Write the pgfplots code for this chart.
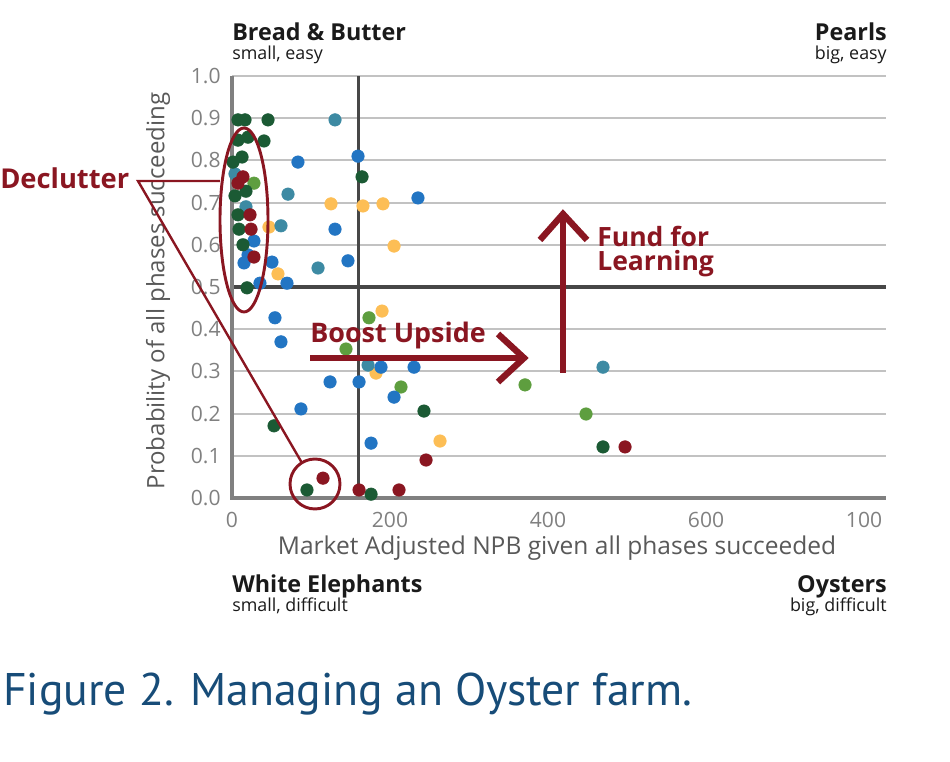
\documentclass[border=0pt]{standalone}
\usepackage{fontspec}
\setmainfont{Open Sans}
\newfontfamily\capfont{PT Sans}
\usepackage{pgfplots}
\pgfplotsset{compat=1.18}
\definecolor{dgreen}{HTML}{1B5A34}
\definecolor{dred}{HTML}{8A1621}
\definecolor{cblue}{HTML}{2275C3}
\definecolor{cteal}{HTML}{3D8AA3}
\definecolor{lgreen}{HTML}{5E9E3F}
\definecolor{cyellow}{HTML}{FDBE55}
\definecolor{annot}{HTML}{8A1621}
\definecolor{capblue}{HTML}{174C78}
\definecolor{ticgray}{HTML}{808080}
\definecolor{labgray}{HTML}{595959}
\definecolor{qtext}{HTML}{1A1A1A}
\begin{document}
\begin{tikzpicture}
\begin{axis}[
  at={(0pt,0pt)}, anchor=south west,
  scale only axis, width=490.5pt, height=316.5pt,
  xmin=0, xmax=827.8, ymin=0, ymax=1,
  clip=false,
  axis line style={draw=none},
  xtick={0,200,400,600,800},
  xticklabels={0,200,400,600,100},
  ytick={0,0.1,...,1.0},
  yticklabel style={/pgf/number format/fixed, /pgf/number format/fixed zerofill, /pgf/number format/precision=1, xshift=-5pt},
  /pgf/number format/assume math mode=true,
  tick label style={color=ticgray, font=\fontsize{15.8}{18}\selectfont},
  major tick length=0pt,
  xticklabel style={yshift=-7pt},
  ymajorgrids,
  grid style={color=black!24, line width=1.4pt},
  every axis plot/.append style={only marks, mark=*, mark size=4.7pt},
]
\draw[line width=2.3pt, color=black!72] (axis cs:0,0.5) -- (axis cs:827.8,0.5);
\draw[line width=2.3pt, color=black!72] (axis cs:160,0) -- (axis cs:160,1);
\draw[line width=2.3pt, color=black!50] (axis cs:0,1) -- (axis cs:0,0) -- (axis cs:827.8,0);
\addplot[mark options={draw=cyellow, fill=cyellow}] coordinates {
(125.3,0.697) (165.8,0.692) (191.1,0.697) (205.1,0.597) (46.8,0.642)
(58.2,0.531) (189.9,0.443) (182.3,0.296) (263.3,0.135)};
\addplot[mark options={draw=lgreen, fill=lgreen}] coordinates {
(27.8,0.746) (173.4,0.427) (144.3,0.353) (213.9,0.263) (370.9,0.268) (448.1,0.199)};
\addplot[mark options={draw=cteal, fill=cteal}] coordinates {
(130.4,0.896) (3.8,0.768) (70.9,0.720) (17.7,0.690) (62,0.645)
(108.9,0.545) (172.2,0.315) (469.6,0.310)};
\addplot[mark options={draw=cblue, fill=cblue}] coordinates {
(159.5,0.810) (83.5,0.796) (235.4,0.711) (130.4,0.637) (27.8,0.609)
(146.8,0.562) (20.3,0.576) (15.2,0.557) (50.6,0.559) (35.4,0.509)
(69.6,0.509) (54.4,0.427) (62.0,0.370) (188.6,0.310) (230.4,0.310)
(124.1,0.275) (160.8,0.275) (205.1,0.239) (87.3,0.211) (176,0.130)};
\addplot[mark options={draw=dgreen, fill=dgreen}] coordinates {
(7.6,0.896) (16.5,0.896) (45.6,0.896) (7.6,0.848) (20.3,0.855)
(40.5,0.846) (1.3,0.796) (12.7,0.808) (17.7,0.727) (3.8,0.716)
(7.6,0.671) (8.9,0.637) (13.9,0.600) (19.0,0.498) (164.6,0.761)
(53.2,0.171) (94.9,0.019) (176,0.009) (243,0.206) (469.6,0.121)};
\addplot[mark options={draw=dred, fill=dred}] coordinates {
(13.9,0.761) (7.6,0.746) (22.8,0.671) (24.1,0.637) (27.8,0.571)
(115.2,0.047) (160.8,0.019) (211.4,0.019) (245.6,0.090) (497.5,0.121)};
\end{axis}
\begin{scope}[shift={(-174pt,373.5pt)}, x=0.75pt, y=-0.75pt]
\path[use as bounding box] (0,0) rectangle (950,762);
% axis labels
\node[rotate=90, color=labgray, font=\fontsize{18}{22}\selectfont] at (158,291) {Probability of all phases succeeding};
\node[color=labgray, font=\fontsize{18.4}{22}\selectfont] at (557,548) {Market Adjusted NPB given all phases succeeded};
% quadrant labels
\node[anchor=base west, inner sep=0pt, color=qtext, font=\fontsize{17.5}{20}\selectfont\bfseries] at (232,41) {Bread \& Butter};
\node[anchor=base west, inner sep=0pt, color=qtext, font=\fontsize{13.4}{15}\selectfont] at (232,60) {small, easy};
\node[anchor=base east, inner sep=0pt, color=qtext, font=\fontsize{17.5}{20}\selectfont\bfseries] at (887,41) {Pearls};
\node[anchor=base east, inner sep=0pt, color=qtext, font=\fontsize{13.4}{15}\selectfont] at (887,60) {big, easy};
\node[anchor=base west, inner sep=0pt, color=qtext, font=\fontsize{17.5}{20}\selectfont\bfseries] at (232,593) {White Elephants};
\node[anchor=base west, inner sep=0pt, color=qtext, font=\fontsize{13.4}{15}\selectfont] at (232,612) {small, difficult};
\node[anchor=base east, inner sep=0pt, color=qtext, font=\fontsize{17.5}{20}\selectfont\bfseries] at (887,593) {Oysters};
\node[anchor=base east, inner sep=0pt, color=qtext, font=\fontsize{13.4}{15}\selectfont] at (887,612) {big, difficult};
% annotations
\draw[annot, line width=2.2pt] (244,220) ellipse [x radius=24, y radius=92];
\draw[annot, line width=2.2pt] (315,484) circle [radius=25];
\draw[annot, line width=1.8pt] (220,181) -- (138,181) -- (302,463);
\node[anchor=base west, inner sep=0pt, color=annot, font=\fontsize{20.5}{24}\selectfont\bfseries] at (0,189) {Declutter};
\draw[annot, line width=4.8pt] (310,358) -- (522,358);
\draw[annot, line width=4.8pt, line join=miter] (498,334) -- (524,358) -- (498,382);
\node[anchor=base west, inner sep=0pt, color=annot, font=\fontsize{20.2}{24}\selectfont\bfseries] at (310,343) {Boost Upside};
\draw[annot, line width=4.8pt] (563,373) -- (563,216);
\draw[annot, line width=4.8pt, line join=miter] (540,240) -- (563,214) -- (587,240);
\node[anchor=base west, inner sep=0pt, color=annot, font=\fontsize{19.9}{23}\selectfont\bfseries] at (597,247) {Fund for};
\node[anchor=base west, inner sep=0pt, color=annot, font=\fontsize{19.9}{23}\selectfont\bfseries] at (597,271) {Learning};
% caption
\node[anchor=base west, inner sep=0pt, color=capblue, font=\capfont\fontsize{34.3}{40}\selectfont] at (3,706) {Figure 2. Managing an Oyster farm.};
\end{scope}
\end{tikzpicture}
\end{document}
